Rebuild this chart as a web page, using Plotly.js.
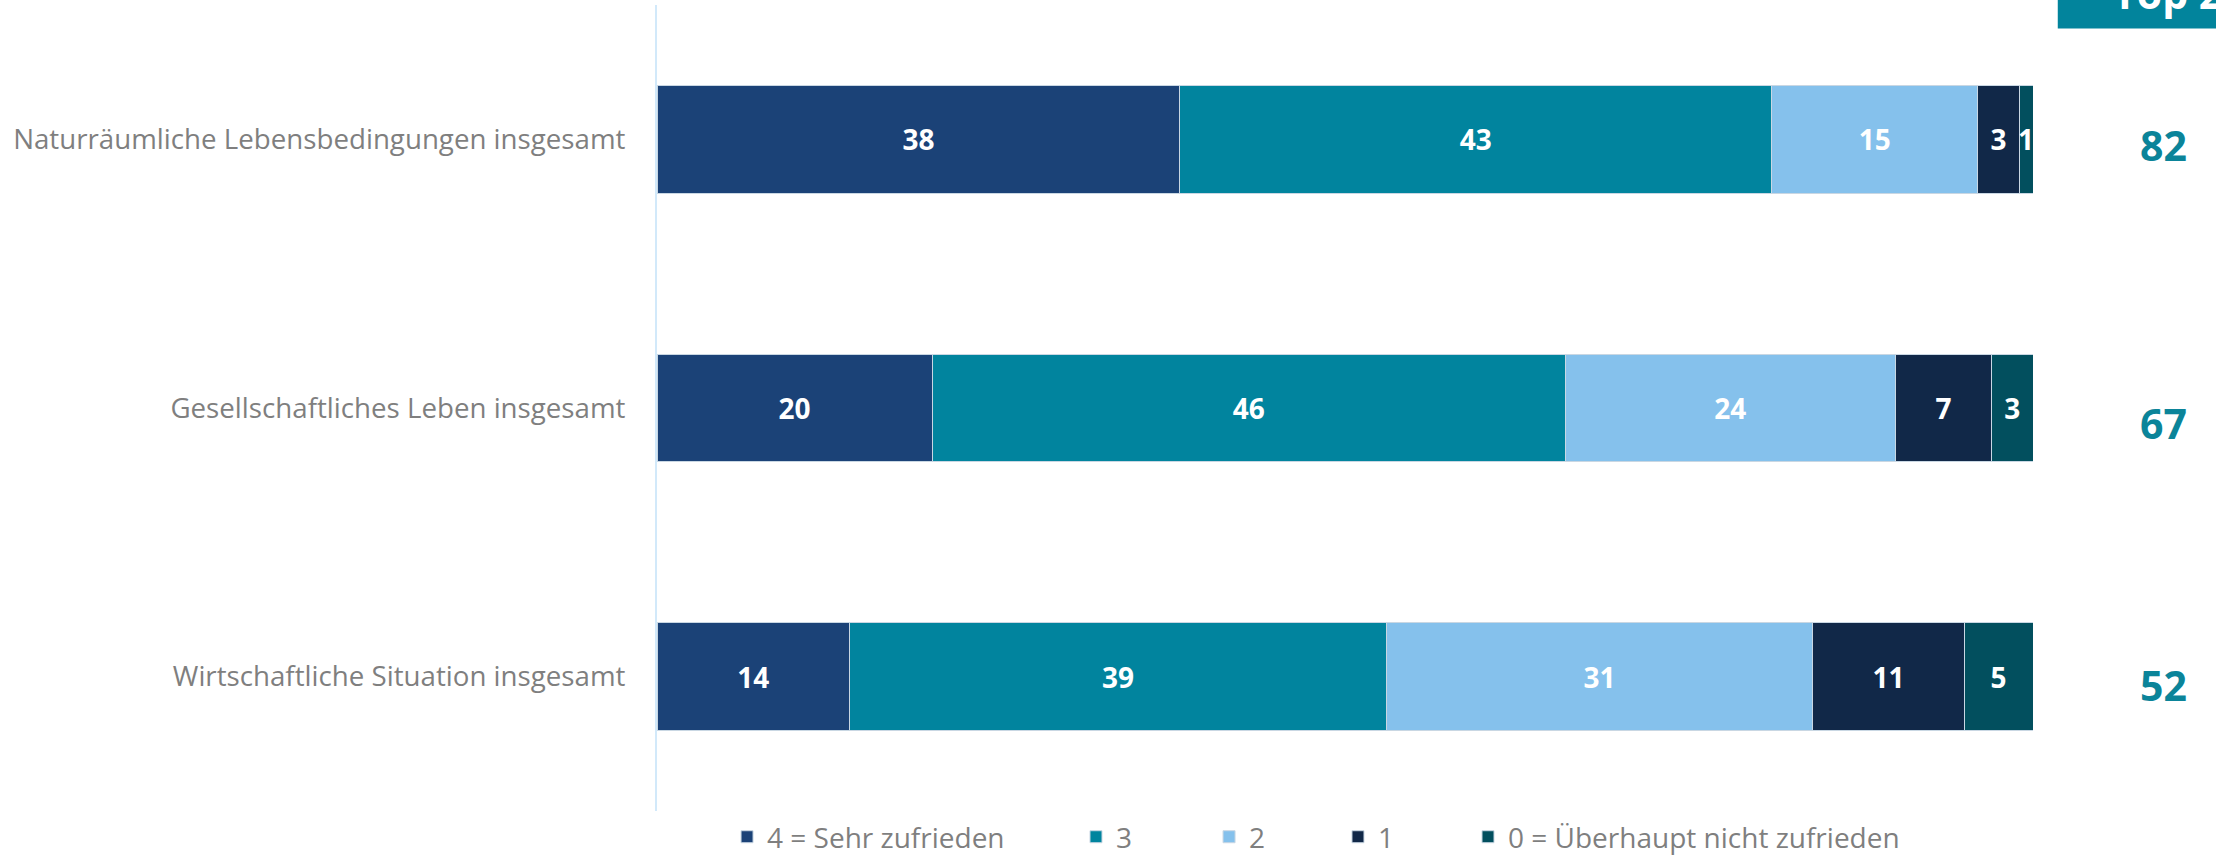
<!DOCTYPE html>
<html><head><meta charset="utf-8">
<script src="https://cdn.plot.ly/plotly-3.0.1.min.js"></script>
<style>html,body{margin:0;padding:0;background:#fff}#chart{width:2216px;height:856px}</style>
</head><body><div id="chart"></div>
<script>
// ---- data ----
const categories = [
  "Naturräumliche Lebensbedingungen insgesamt",
  "Gesellschaftliches Leben insgesamt",
  "Wirtschaftliche Situation insgesamt"
];
const seriesNames = ["4 = Sehr zufrieden", "3", "2", "1", "0 = Überhaupt nicht zufrieden"];
const sehrZufrieden   = [38, 20, 14];
const drei            = [43, 46, 39];
const zwei            = [15, 24, 31];
const eins            = [3, 7, 11];
const ueberhauptNicht = [1, 3, 5];
const top2            = [82, 67, 52];
const top2Header      = "Top 2";

// ---- style ----
const colors = ["#1b4277", "#01849e", "#85c1ec", "#112848", "#024f5e"];
const seriesValues = [sehrZufrieden, drei, zwei, eins, ueberhauptNicht];
const legendIds = ['legend', 'legend2', 'legend3', 'legend4', 'legend5'];
const legendX = [0.0509, 0.3045, 0.4012, 0.4949, 0.5894];
const top2Shift = [-6, -15, -8];

const traces = seriesValues.map((vals, i) => ({
  type: 'bar',
  orientation: 'h',
  name: seriesNames[i],
  legend: legendIds[i],
  y: categories,
  x: vals,
  text: vals.map(String),
  textposition: 'inside',
  insidetextanchor: 'middle',
  constraintext: 'none',
  textangle: 0,
  textfont: {family: 'Open Sans', size: 28, color: '#ffffff', weight: 700},
  marker: {color: colors[i], line: {color: '#c9d7e3', width: 1}},
  hoverinfo: 'x+y+name'
}));

const annotations = categories.map((c, i) => ({
  xref: 'paper', yref: 'y', x: 1.0952, y: c,
  xanchor: 'center', yanchor: 'middle', yshift: top2Shift[i],
  text: String(top2[i]), showarrow: false,
  font: {family: 'Open Sans', size: 41, color: '#0b8499', weight: 700}
}));
annotations.push({
  xref: 'paper', yref: 'paper', x: 1.057, y: 0.978,
  xanchor: 'left', yanchor: 'bottom',
  text: top2Header, showarrow: false,
  font: {family: 'Open Sans', size: 41, color: '#ffffff', weight: 700}
});

const layout = {
  width: 2216, height: 856,
  margin: {l: 657, r: 183, t: 5, b: 45, autoexpand: false},
  paper_bgcolor: '#ffffff', plot_bgcolor: '#ffffff',
  barmode: 'stack',
  bargap: 0.6,
  showlegend: true,
  xaxis: {range: [0, 100], visible: false, showgrid: false, zeroline: false, fixedrange: true},
  yaxis: {
    autorange: 'reversed', type: 'category',
    showline: true, linecolor: '#d2e9fa', linewidth: 2,
    showgrid: false, zeroline: false, ticks: '',
    ticklabelstandoff: 24,
    tickfont: {family: 'Open Sans', size: 27.7, color: '#7f7f7f'}
  },
  shapes: [{
    type: 'rect', xref: 'paper', yref: 'paper', layer: 'below',
    x0: 1.018, x1: 1.2, y0: 0.9708, y1: 1.05,
    fillcolor: '#02849c', line: {width: 0}
  }],
  annotations: annotations
};
legendIds.forEach((id, i) => {
  layout[id] = {
    orientation: 'h', x: legendX[i], xanchor: 'left', y: -0.0323, yanchor: 'middle',
    font: {family: 'Open Sans', size: 28, color: '#7f7f7f'},
    bgcolor: 'rgba(0,0,0,0)', borderwidth: 0
  };
});

Plotly.newPlot('chart', traces, layout, {displayModeBar: false, staticPlot: true});
</script>
</body></html>
